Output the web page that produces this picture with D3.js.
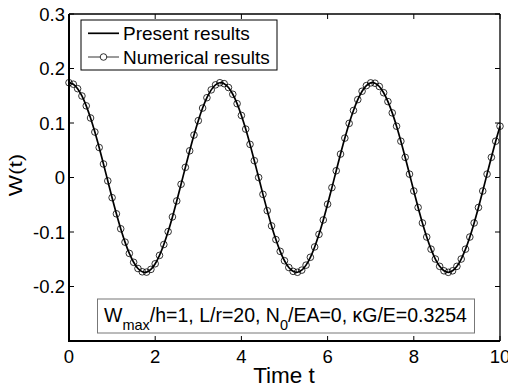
<!DOCTYPE html>
<html><head><meta charset="utf-8">
<script src="https://cdn.jsdelivr.net/npm/d3@7"></script>
<style>body{margin:0;background:#fff}svg{display:block}text{font-family:"Liberation Sans",Arial,sans-serif;fill:#000}</style>
</head><body>
<script>
const time = [0,0.1,0.2,0.3,0.4,0.5,0.6,0.7,0.8,0.9,1,1.1,1.2,1.3,1.4,1.5,1.6,1.7,1.8,1.9,2,2.1,2.2,2.3,2.4,2.5,2.6,2.7,2.8,2.9,3,3.1,3.2,3.3,3.4,3.5,3.6,3.7,3.8,3.9,4,4.1,4.2,4.3,4.4,4.5,4.6,4.7,4.8,4.9,5,5.1,5.2,5.3,5.4,5.5,5.6,5.7,5.8,5.9,6,6.1,6.2,6.3,6.4,6.5,6.6,6.7,6.8,6.9,7,7.1,7.2,7.3,7.4,7.5,7.6,7.7,7.8,7.9,8,8.1,8.2,8.3,8.4,8.5,8.6,8.7,8.8,8.9,9,9.1,9.2,9.3,9.4,9.5,9.6,9.7,9.8,9.9,10];
const present = [0.1740,0.1712,0.1630,0.1496,0.1315,0.1092,0.0834,0.0550,0.0248,-0.0062,-0.0370,-0.0666,-0.0941,-0.1186,-0.1393,-0.1556,-0.1670,-0.1730,-0.1736,-0.1686,-0.1583,-0.1429,-0.1230,-0.0993,-0.0723,-0.0430,-0.0124,0.0186,0.0490,0.0779,0.1043,0.1274,0.1464,0.1608,0.1700,0.1739,0.1722,0.1651,0.1527,0.1355,0.1139,0.0888,0.0608,0.0309,0.0000,-0.0309,-0.0608,-0.0888,-0.1139,-0.1355,-0.1527,-0.1651,-0.1722,-0.1739,-0.1700,-0.1608,-0.1464,-0.1274,-0.1043,-0.0779,-0.0490,-0.0186,0.0124,0.0430,0.0723,0.0993,0.1230,0.1429,0.1583,0.1686,0.1736,0.1730,0.1670,0.1556,0.1393,0.1186,0.0941,0.0666,0.0370,0.0062,-0.0248,-0.0550,-0.0834,-0.1092,-0.1315,-0.1496,-0.1630,-0.1712,-0.1740,-0.1712,-0.1630,-0.1496,-0.1315,-0.1092,-0.0834,-0.0550,-0.0248,0.0062,0.0370,0.0666,0.0941];
const numerical = [0.1740,0.1712,0.1630,0.1496,0.1315,0.1092,0.0834,0.0550,0.0248,-0.0062,-0.0370,-0.0666,-0.0941,-0.1186,-0.1393,-0.1556,-0.1670,-0.1730,-0.1736,-0.1686,-0.1583,-0.1429,-0.1230,-0.0993,-0.0723,-0.0430,-0.0124,0.0186,0.0490,0.0779,0.1043,0.1274,0.1464,0.1608,0.1700,0.1739,0.1722,0.1651,0.1527,0.1355,0.1139,0.0888,0.0608,0.0309,0.0000,-0.0309,-0.0608,-0.0888,-0.1139,-0.1355,-0.1527,-0.1651,-0.1722,-0.1739,-0.1700,-0.1608,-0.1464,-0.1274,-0.1043,-0.0779,-0.0490,-0.0186,0.0124,0.0430,0.0723,0.0993,0.1230,0.1429,0.1583,0.1686,0.1736,0.1730,0.1670,0.1556,0.1393,0.1186,0.0941,0.0666,0.0370,0.0062,-0.0248,-0.0550,-0.0834,-0.1092,-0.1315,-0.1496,-0.1630,-0.1712,-0.1740,-0.1712,-0.1630,-0.1496,-0.1315,-0.1092,-0.0834,-0.0550,-0.0248,0.0062,0.0370,0.0666,0.0941];
const xTicks = [0,2,4,6,8,10];
const yTicks = [0.3,0.2,0.1,0,-0.1,-0.2];
const yTickLabels = ["0.3","0.2","0.1","0","-0.1","-0.2"];
const legendLabels = ["Present results","Numerical results"];

const W = 508, H = 388;
const L = 69, R = 500, T = 14, B = 341;
const svg = d3.select("body").append("svg").attr("width", W).attr("height", H);
const x = d3.scaleLinear().domain([0,10]).range([L,R]);
const y = d3.scaleLinear().domain([-0.3,0.3]).range([B,T]);

const g = svg.append("g");
xTicks.forEach(v => {
  g.append("line").attr("x1",x(v)).attr("x2",x(v)).attr("y1",B).attr("y2",B-5).attr("stroke","#000").attr("stroke-width",1);
  g.append("line").attr("x1",x(v)).attr("x2",x(v)).attr("y1",T).attr("y2",T+5).attr("stroke","#000").attr("stroke-width",1);
  g.append("text").attr("x",x(v)).attr("y",362.5).attr("text-anchor","middle").attr("font-size",18.5).text(v);
});
yTicks.forEach((v,i) => {
  g.append("line").attr("x1",L).attr("x2",L+5).attr("y1",y(v)).attr("y2",y(v)).attr("stroke","#000").attr("stroke-width",1);
  g.append("line").attr("x1",R).attr("x2",R-5).attr("y1",y(v)).attr("y2",y(v)).attr("stroke","#000").attr("stroke-width",1);
  g.append("text").attr("x",65).attr("y",y(v)+6.5).attr("text-anchor","end").attr("font-size",18.5).text(yTickLabels[i]);
});

const pts = time.map((t,i)=>({t, p: present[i], n: numerical[i]}));
svg.append("path").datum(pts)
  .attr("d", d3.line().x(d=>x(d.t)).y(d=>y(d.p)).curve(d3.curveCatmullRom))
  .attr("fill","none").attr("stroke","#000").attr("stroke-width",1.7);
svg.append("g").selectAll("circle").data(pts).join("circle")
  .attr("cx",d=>x(d.t)).attr("cy",d=>y(d.n)).attr("r",3.3)
  .attr("fill","none").attr("stroke","#000").attr("stroke-width",0.8);

svg.append("line").attr("x1",L).attr("x2",R).attr("y1",T).attr("y2",T).attr("stroke","#000").attr("stroke-width",1.3);
svg.append("line").attr("x1",R).attr("x2",R).attr("y1",T).attr("y2",B).attr("stroke","#000").attr("stroke-width",1.3);
svg.append("line").attr("x1",L-1).attr("x2",R).attr("y1",B).attr("y2",B).attr("stroke","#000").attr("stroke-width",2);
svg.append("line").attr("x1",L).attr("x2",L).attr("y1",T).attr("y2",B).attr("stroke","#000").attr("stroke-width",2);

svg.append("text").attr("x",284).attr("y",383).attr("text-anchor","middle").attr("font-size",22.5).text("Time t");
svg.append("text").attr("transform","translate(22,175) rotate(-90) scale(1.25,1)").attr("text-anchor","middle").attr("font-size",18).text("W(t)");

const lg = svg.append("g");
lg.append("rect").attr("x",81).attr("y",20).attr("width",196).attr("height",50).attr("fill","#fff").attr("stroke","#000").attr("stroke-width",1);
lg.append("line").attr("x1",88).attr("x2",119).attr("y1",33.3).attr("y2",33.3).attr("stroke","#000").attr("stroke-width",1.7);
lg.append("line").attr("x1",88).attr("x2",119).attr("y1",57).attr("y2",57).attr("stroke","#000").attr("stroke-width",0.8);
lg.append("circle").attr("cx",103.5).attr("cy",57).attr("r",3.3).attr("fill","#fff").attr("stroke","#000").attr("stroke-width",0.8);
legendLabels.forEach((s,i)=>{
  lg.append("text").attr("x",123).attr("y",39.8+i*23.8).attr("font-size",19).text(s);
});

const an = svg.append("g");
an.append("rect").attr("x",97.5).attr("y",299).attr("width",377).attr("height",34).attr("fill","#fff").attr("stroke","#777").attr("stroke-width",1);
const tx = an.append("text").attr("x",104).attr("y",322).attr("font-size",19.5);
tx.append("tspan").text("W");
tx.append("tspan").attr("font-size",14.5).attr("dy",8).text("max");
tx.append("tspan").attr("dy",-8).text("/h=1, L/r=20, N");
tx.append("tspan").attr("font-size",14.5).attr("dy",8).text("0");
tx.append("tspan").attr("dy",-8).text("/EA=0, \u03BAG/E=0.3254");
</script>
</body></html>
